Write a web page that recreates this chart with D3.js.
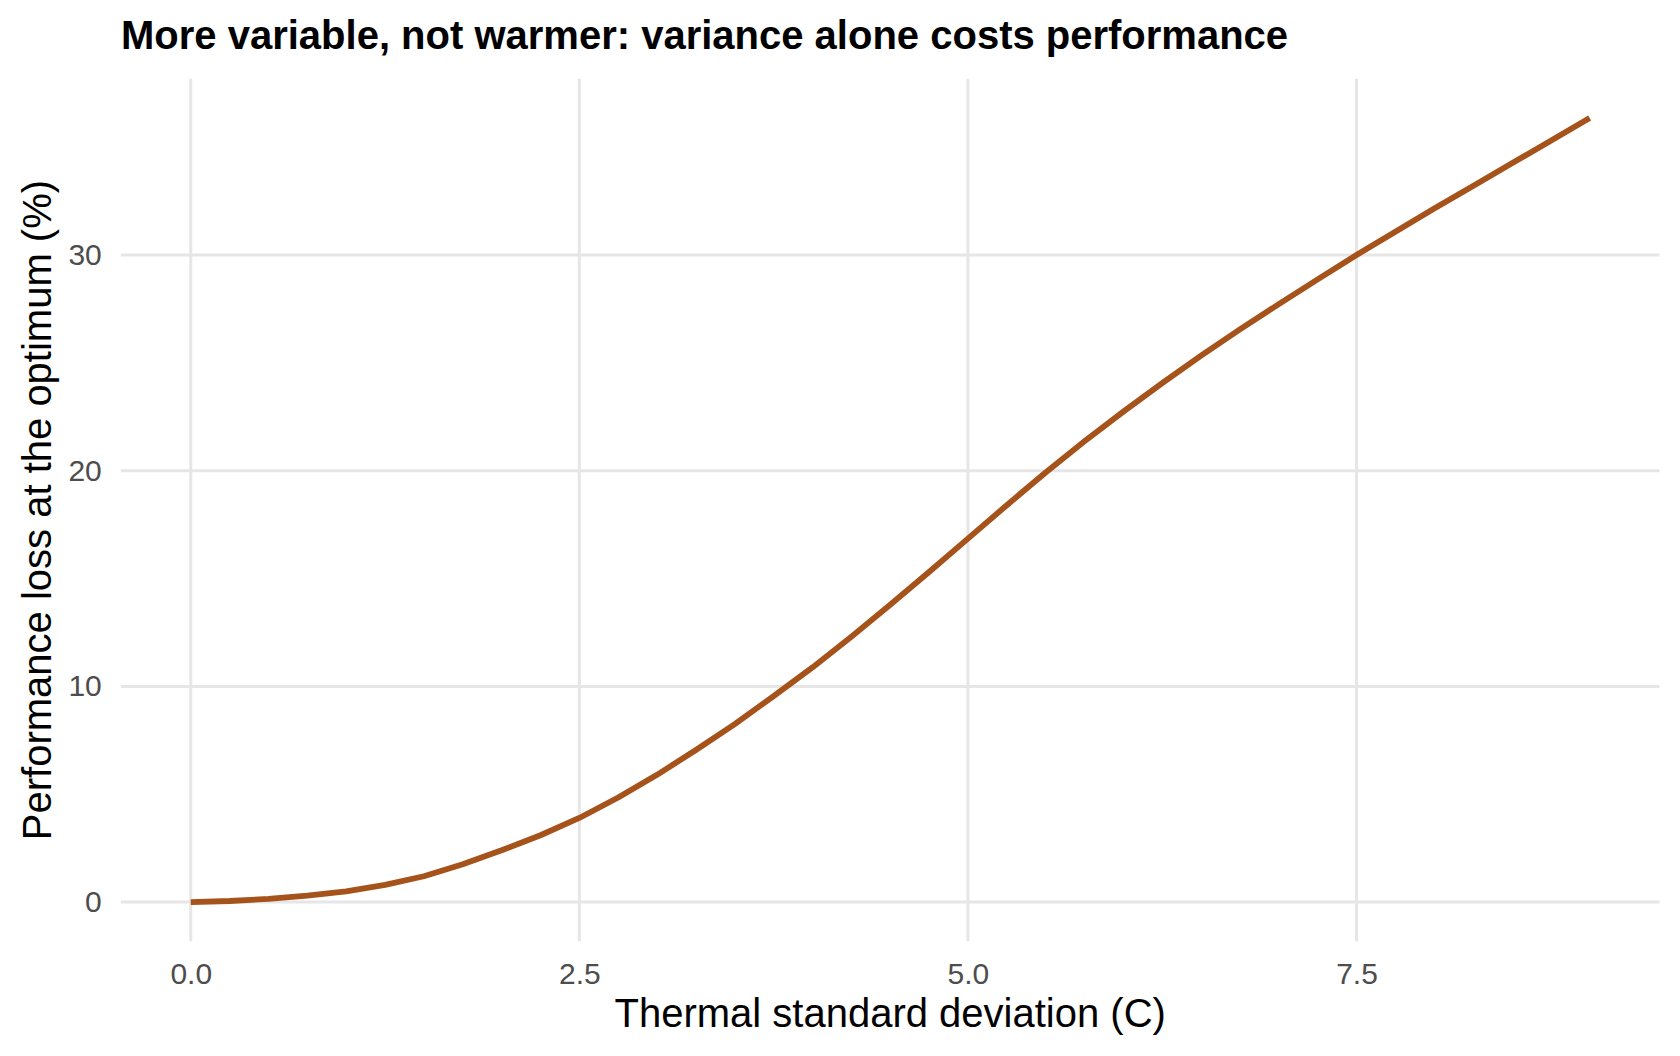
<!DOCTYPE html>
<html>
<head>
<meta charset="utf-8">
<script src="https://cdn.jsdelivr.net/npm/d3@7"></script>
<style>
  body { margin: 0; background: #ffffff; }
  text { font-family: "Liberation Sans", Arial, Helvetica, sans-serif; }
</style>
</head>
<body>
<div id="chart"></div>
<script>
// Thermal standard deviation (C)
const sdValues = [0, 0.25, 0.5, 0.75, 1, 1.25, 1.5, 1.75, 2, 2.25, 2.5, 2.75, 3, 3.25, 3.5, 3.75,
                  4, 4.25, 4.5, 4.75, 5, 5.25, 5.5, 5.75, 6, 6.25, 6.5, 6.75, 7, 7.25, 7.5,
                  7.75, 8, 8.25, 8.5, 8.75, 9];

// Performance loss at the optimum (%)
const lossValues = [0, 0.05, 0.15, 0.3, 0.5, 0.8, 1.2, 1.75, 2.4, 3.1, 3.9, 4.85, 5.9, 7.05, 8.25, 9.55,
                    10.88, 12.3, 13.78, 15.3, 16.85, 18.4, 19.92, 21.36, 22.74, 24.06, 25.33, 26.55, 27.72, 28.87, 30.0,
                    31.08, 32.15, 33.2, 34.25, 35.3, 36.35];

const xTicks = [0, 2.5, 5, 7.5];
const yTicks = [0, 10, 20, 30];

const titleText = "More variable, not warmer: variance alone costs performance";
const xLabel = "Thermal standard deviation (C)";
const yLabel = "Performance loss at the optimum (%)";

const data = sdValues.map((d, i) => ({sd: d, loss: lossValues[i]}));

// Canvas and panel
let width = 1680, height = 1056;
let panel = {left: 120.8, right: 1659.6, top: 78.8, bottom: 941.3};

let svg = d3.select("#chart")
            .append("svg")
            .attr("width", width)
            .attr("height", height)
            .style("background", "#ffffff");

// Scales with ggplot-like 5% expansion
let xExt = d3.extent(sdValues), yExt = d3.extent(lossValues);
let xPad = (xExt[1] - xExt[0]) * 0.05, yPad = (yExt[1] - yExt[0]) * 0.05;

let xscale = d3.scaleLinear()
               .domain([xExt[0] - xPad, xExt[1] + xPad])
               .range([panel.left, panel.right]);

let yscale = d3.scaleLinear()
               .domain([yExt[0] - yPad, yExt[1] + yPad])
               .range([panel.bottom, panel.top]);

// Grid lines
svg.append("g")
   .selectAll("line")
   .data(yTicks)
   .enter()
   .append("line")
   .attr("x1", panel.left)
   .attr("x2", panel.right)
   .attr("y1", d => yscale(d))
   .attr("y2", d => yscale(d))
   .attr("stroke", "#E6E6E6")
   .attr("stroke-width", 3);

svg.append("g")
   .selectAll("line")
   .data(xTicks)
   .enter()
   .append("line")
   .attr("x1", d => xscale(d))
   .attr("x2", d => xscale(d))
   .attr("y1", panel.top)
   .attr("y2", panel.bottom)
   .attr("stroke", "#E6E6E6")
   .attr("stroke-width", 3);

// Axes (labels only, no domain or tick marks)
let xaxis = svg.append("g")
               .attr("transform", `translate(0, ${panel.bottom})`)
               .call(d3.axisBottom(xscale).tickValues(xTicks).tickFormat(d3.format(".1f")).tickSize(0).tickPadding(21));

let yaxis = svg.append("g")
               .attr("transform", `translate(${panel.left}, 0)`)
               .call(d3.axisLeft(yscale).tickValues(yTicks).tickFormat(d3.format("d")).tickSize(0).tickPadding(19));

[xaxis, yaxis].forEach(ax => {
  ax.select(".domain").remove();
  ax.selectAll("text")
    .attr("fill", "#4D4D4D")
    .style("font-size", "30px")
    .style("font-family", '"Liberation Sans", Arial, Helvetica, sans-serif');
});

// The curve
let line = d3.line()
             .x(d => xscale(d.sd))
             .y(d => yscale(d.loss));

svg.append("path")
   .datum(data)
   .attr("d", line)
   .attr("fill", "none")
   .attr("stroke", "#A5521B")
   .attr("stroke-width", 5.8)
   .attr("stroke-linejoin", "round");

// Title
svg.append("text")
   .attr("x", 121)
   .attr("y", 49)
   .text(titleText)
   .style("font-size", "40px")
   .style("font-weight", "bold")
   .attr("fill", "#000000");

// X axis label
svg.append("text")
   .attr("x", (panel.left + panel.right) / 2)
   .attr("y", 1027)
   .attr("text-anchor", "middle")
   .text(xLabel)
   .style("font-size", "40px")
   .attr("fill", "#000000");

// Y axis label
svg.append("text")
   .attr("transform", `translate(51, ${(panel.top + panel.bottom) / 2}) rotate(-90)`)
   .attr("text-anchor", "middle")
   .text(yLabel)
   .style("font-size", "40px")
   .attr("fill", "#000000");
</script>
</body>
</html>
